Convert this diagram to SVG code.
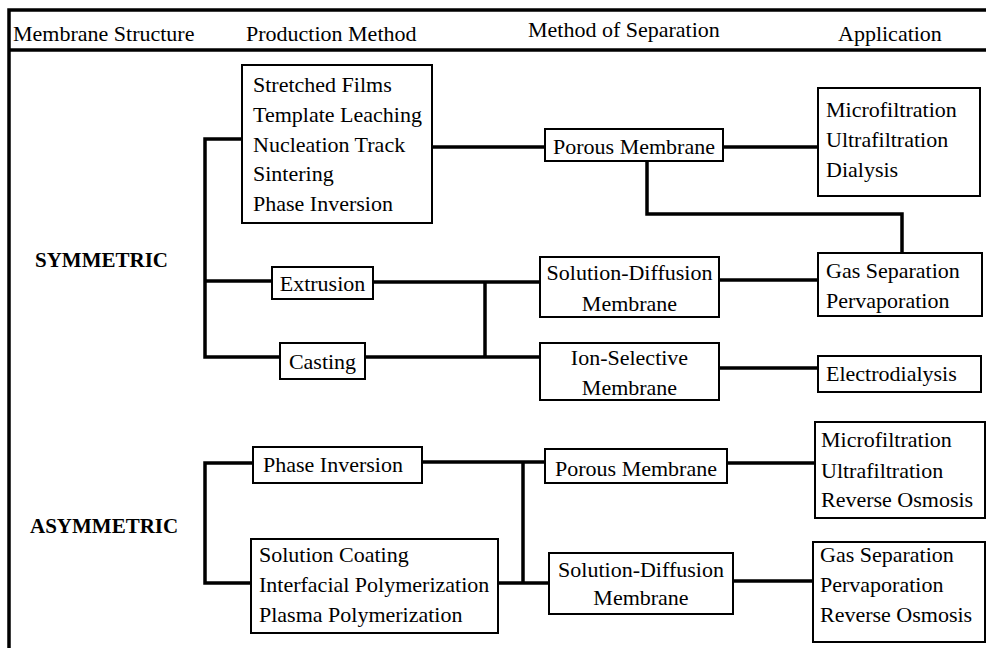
<svg xmlns="http://www.w3.org/2000/svg" width="986" height="648" viewBox="0 0 986 648">
<style>
.c{text-anchor:middle}
.h{font-weight:bold}
.box{fill:#fff;stroke:#000;stroke-width:2}
.ln{fill:none;stroke:#000;stroke-width:3.5}
.frame{fill:none;stroke:#000;stroke-width:3.5}
</style>
<rect width="986" height="648" fill="#fff"/>
<g font-family="'Liberation Serif', serif" font-size="22" fill="#000">
<g id="frame">
<path class="frame" d="M9,648 V10 H986"/>
<path class="frame" d="M9,50 H986"/>
</g>
<g id="header">
<text x="13" y="41">Membrane Structure</text>
<text x="246" y="41">Production Method</text>
<text x="528" y="37">Method of Separation</text>
<text x="838" y="41">Application</text>
</g>
<g id="labels">
<text class="h" x="35" y="267" font-size="21">SYMMETRIC</text>
<text class="h" x="30" y="533" font-size="21">ASYMMETRIC</text>
</g>
<g id="connectors">
<path class="ln" d="M242,139 H205 V357 H280"/>
<path class="ln" d="M205,281 H272"/>
<path class="ln" d="M373,282 H540"/>
<path class="ln" d="M365,357 H540"/>
<path class="ln" d="M485,282 V357"/>
<path class="ln" d="M432,147 H545"/>
<path class="ln" d="M723,147 H818"/>
<path class="ln" d="M647,161 V214 H902 V253"/>
<path class="ln" d="M719,280 H818"/>
<path class="ln" d="M719,368 H818"/>
<path class="ln" d="M253,463 H205 V583 H251"/>
<path class="ln" d="M422,462 H545"/>
<path class="ln" d="M498,583 H549"/>
<path class="ln" d="M523,462 V583"/>
<path class="ln" d="M727,463 H815"/>
<path class="ln" d="M733,581 H813"/>
</g>
<g id="n-production-sym">
<rect class="box" x="242" y="65" width="190" height="158"/>
<text x="253" y="92">Stretched Films</text>
<text x="253" y="122">Template Leaching</text>
<text x="253" y="151.5">Nucleation Track</text>
<text x="253" y="181">Sintering</text>
<text x="253" y="211">Phase Inversion</text>
</g>
<g id="n-extrusion">
<rect class="box" x="272" y="267" width="101" height="32"/>
<text class="c" x="322.5" y="291">Extrusion</text>
</g>
<g id="n-casting">
<rect class="box" x="280" y="343" width="85" height="36"/>
<text class="c" x="322.5" y="369">Casting</text>
</g>
<g id="n-porous-sym">
<rect class="box" x="545" y="129" width="178" height="32"/>
<text class="c" x="634" y="154">Porous Membrane</text>
</g>
<g id="n-soldiff-sym">
<rect class="box" x="540" y="257" width="179" height="60"/>
<text class="c" x="629.5" y="280">Solution-Diffusion</text>
<text class="c" x="629.5" y="310.5">Membrane</text>
</g>
<g id="n-ionsel">
<rect class="box" x="540" y="343" width="179" height="57"/>
<text class="c" x="629.5" y="365">Ion-Selective</text>
<text class="c" x="629.5" y="395">Membrane</text>
</g>
<g id="n-app1">
<rect class="box" x="818" y="88" width="162" height="108"/>
<text x="826" y="117">Microfiltration</text>
<text x="826" y="147">Ultrafiltration</text>
<text x="826" y="177">Dialysis</text>
</g>
<g id="n-app2">
<rect class="box" x="818" y="253" width="164" height="63"/>
<text x="826" y="278">Gas Separation</text>
<text x="826" y="308">Pervaporation</text>
</g>
<g id="n-electro">
<rect class="box" x="818" y="356" width="163" height="36"/>
<text x="826" y="381">Electrodialysis</text>
</g>
<g id="n-phaseinv-asym">
<rect class="box" x="253" y="447" width="169" height="36"/>
<text x="263" y="472">Phase Inversion</text>
</g>
<g id="n-coating">
<rect class="box" x="251" y="539" width="247" height="94"/>
<text x="259" y="562">Solution Coating</text>
<text x="259" y="592">Interfacial Polymerization</text>
<text x="259" y="622">Plasma Polymerization</text>
</g>
<g id="n-porous-asym">
<rect class="box" x="545" y="449" width="182" height="34"/>
<text class="c" x="636" y="476">Porous Membrane</text>
</g>
<g id="n-soldiff-asym">
<rect class="box" x="549" y="553" width="184" height="61"/>
<text class="c" x="641" y="577">Solution-Diffusion</text>
<text class="c" x="641" y="605">Membrane</text>
</g>
<g id="n-app3">
<rect class="box" x="815" y="422" width="170" height="96"/>
<text x="821" y="447">Microfiltration</text>
<text x="821" y="478">Ultrafiltration</text>
<text x="821" y="507">Reverse Osmosis</text>
</g>
<g id="n-app4">
<rect class="box" x="813" y="542" width="172" height="100"/>
<text x="820" y="562">Gas Separation</text>
<text x="820" y="592">Pervaporation</text>
<text x="820" y="622">Reverse Osmosis</text>
</g>
</g>
</svg>
